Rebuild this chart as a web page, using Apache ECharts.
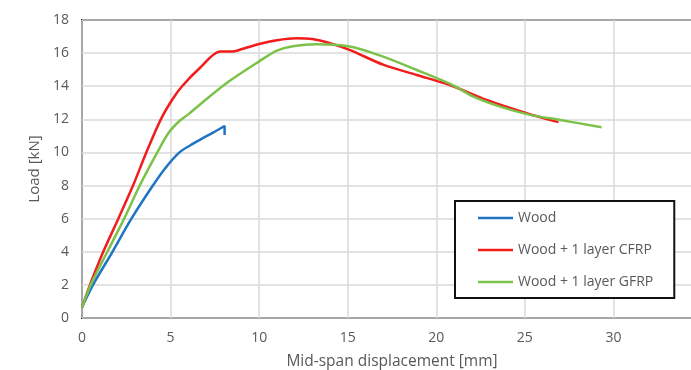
<!DOCTYPE html>
<html>
<head>
<meta charset="utf-8">
<script src="https://cdn.jsdelivr.net/npm/echarts@6/dist/echarts.min.js"></script>
<style>html,body{margin:0;padding:0;background:#fff}#c{width:691px;height:370px}</style>
</head>
<body>
<div id="c"></div>
<script>
const seriesNames = ['Wood', 'Wood + 1 layer CFRP', 'Wood + 1 layer GFRP'];
const woodX = [0, 0.62, 1.72, 2.79, 4.0, 4.7, 5.5, 6.1, 6.65, 7.4, 8.05, 8.05];
const woodY = [0.65, 2, 4, 6, 8, 9.05, 10.0, 10.42, 10.76, 11.2, 11.6, 11.06];
const cfrpX = [0, 0.45, 1.2, 2.05, 2.88, 3.63, 4.45, 5.1, 5.65, 6.65, 7.79, 8.5, 8.9, 10.0, 11.0, 12.1, 13.0, 14.0, 15.1, 17.0, 18.9, 20.8, 22.84, 25.1, 26.9];
const cfrpY = [0.65, 2, 4, 6, 8, 10, 12, 13.2, 14.0, 15.1, 16.09, 16.1, 16.2, 16.55, 16.78, 16.9, 16.85, 16.6, 16.2, 15.3, 14.68, 14.06, 13.17, 12.37, 11.83];
const gfrpX = [0, 0.49, 1.43, 2.38, 3.26, 4.25, 4.9, 5.5, 6.0, 6.63, 8.15, 10.0, 11.0, 11.9, 13.24, 15.12, 17.0, 18.9, 20.9, 22.1, 23.6, 25.3, 27.0, 29.33];
const gfrpY = [0.65, 2, 4, 6, 8, 10, 11.2, 11.9, 12.3, 12.87, 14.18, 15.5, 16.15, 16.42, 16.54, 16.4, 15.79, 14.98, 14.08, 13.37, 12.77, 12.27, 11.96, 11.52];
const colors = ['#1f74c4', '#f21c1c', '#7cc24a'];

const zip = (xs, ys) => xs.map((x, i) => [x, ys[i]]);
const datasets = [zip(woodX, woodY), zip(cfrpX, cfrpY), zip(gfrpX, gfrpY)];

const chart = echarts.init(document.getElementById('c'), null, {renderer: 'canvas'});
const font = '"Open Sans", "Liberation Sans", sans-serif';
chart.setOption({
  animation: false,
  textStyle: {fontFamily: font},
  grid: {left: 82, top: 20, height: 298, width: 620, outerBoundsMode: 'none', containLabel: false,
         show: true, borderColor: '#111', borderWidth: 2, backgroundColor: 'transparent'},
  xAxis: {
    type: 'value', min: 0, max: 35, interval: 5,
    name: 'Mid-span displacement [mm]', nameLocation: 'middle', nameGap: 36,
    nameTextStyle: {color: '#595959', fontSize: 15.5, fontFamily: font},
    axisLine: {show: false}, axisTick: {show: false},
    axisLabel: {color: '#595959', fontSize: 14, margin: 13, fontFamily: font},
    splitLine: {show: true, lineStyle: {color: '#d9d9d9', width: 1.5}}
  },
  yAxis: {
    type: 'value', min: 0, max: 18, interval: 2,
    name: 'Load [kN]', nameLocation: 'middle', nameGap: 33,
    nameTextStyle: {color: '#595959', fontSize: 15, fontFamily: font},
    axisLine: {show: false}, axisTick: {show: false},
    axisLabel: {color: '#595959', fontSize: 14, margin: 13, fontFamily: font},
    splitLine: {show: true, lineStyle: {color: '#d9d9d9', width: 1.5}}
  },
  legend: {
    orient: 'vertical', left: 455, top: 201,
    padding: [9, 21, 8, 23],
    borderColor: '#111', borderWidth: 2, backgroundColor: '#fff',
    icon: 'rect', itemWidth: 35, itemHeight: 2.5, itemGap: 16,
    textStyle: {color: '#595959', fontSize: 14, lineHeight: 16, fontFamily: font},
    data: seriesNames
  },
  series: datasets.map((d, i) => ({
    name: seriesNames[i], type: 'line', data: d,
    symbol: 'none', smooth: 0.3,
    lineStyle: {color: colors[i], width: 2.5},
    itemStyle: {color: colors[i]}
  }))
});
</script>
</body>
</html>
